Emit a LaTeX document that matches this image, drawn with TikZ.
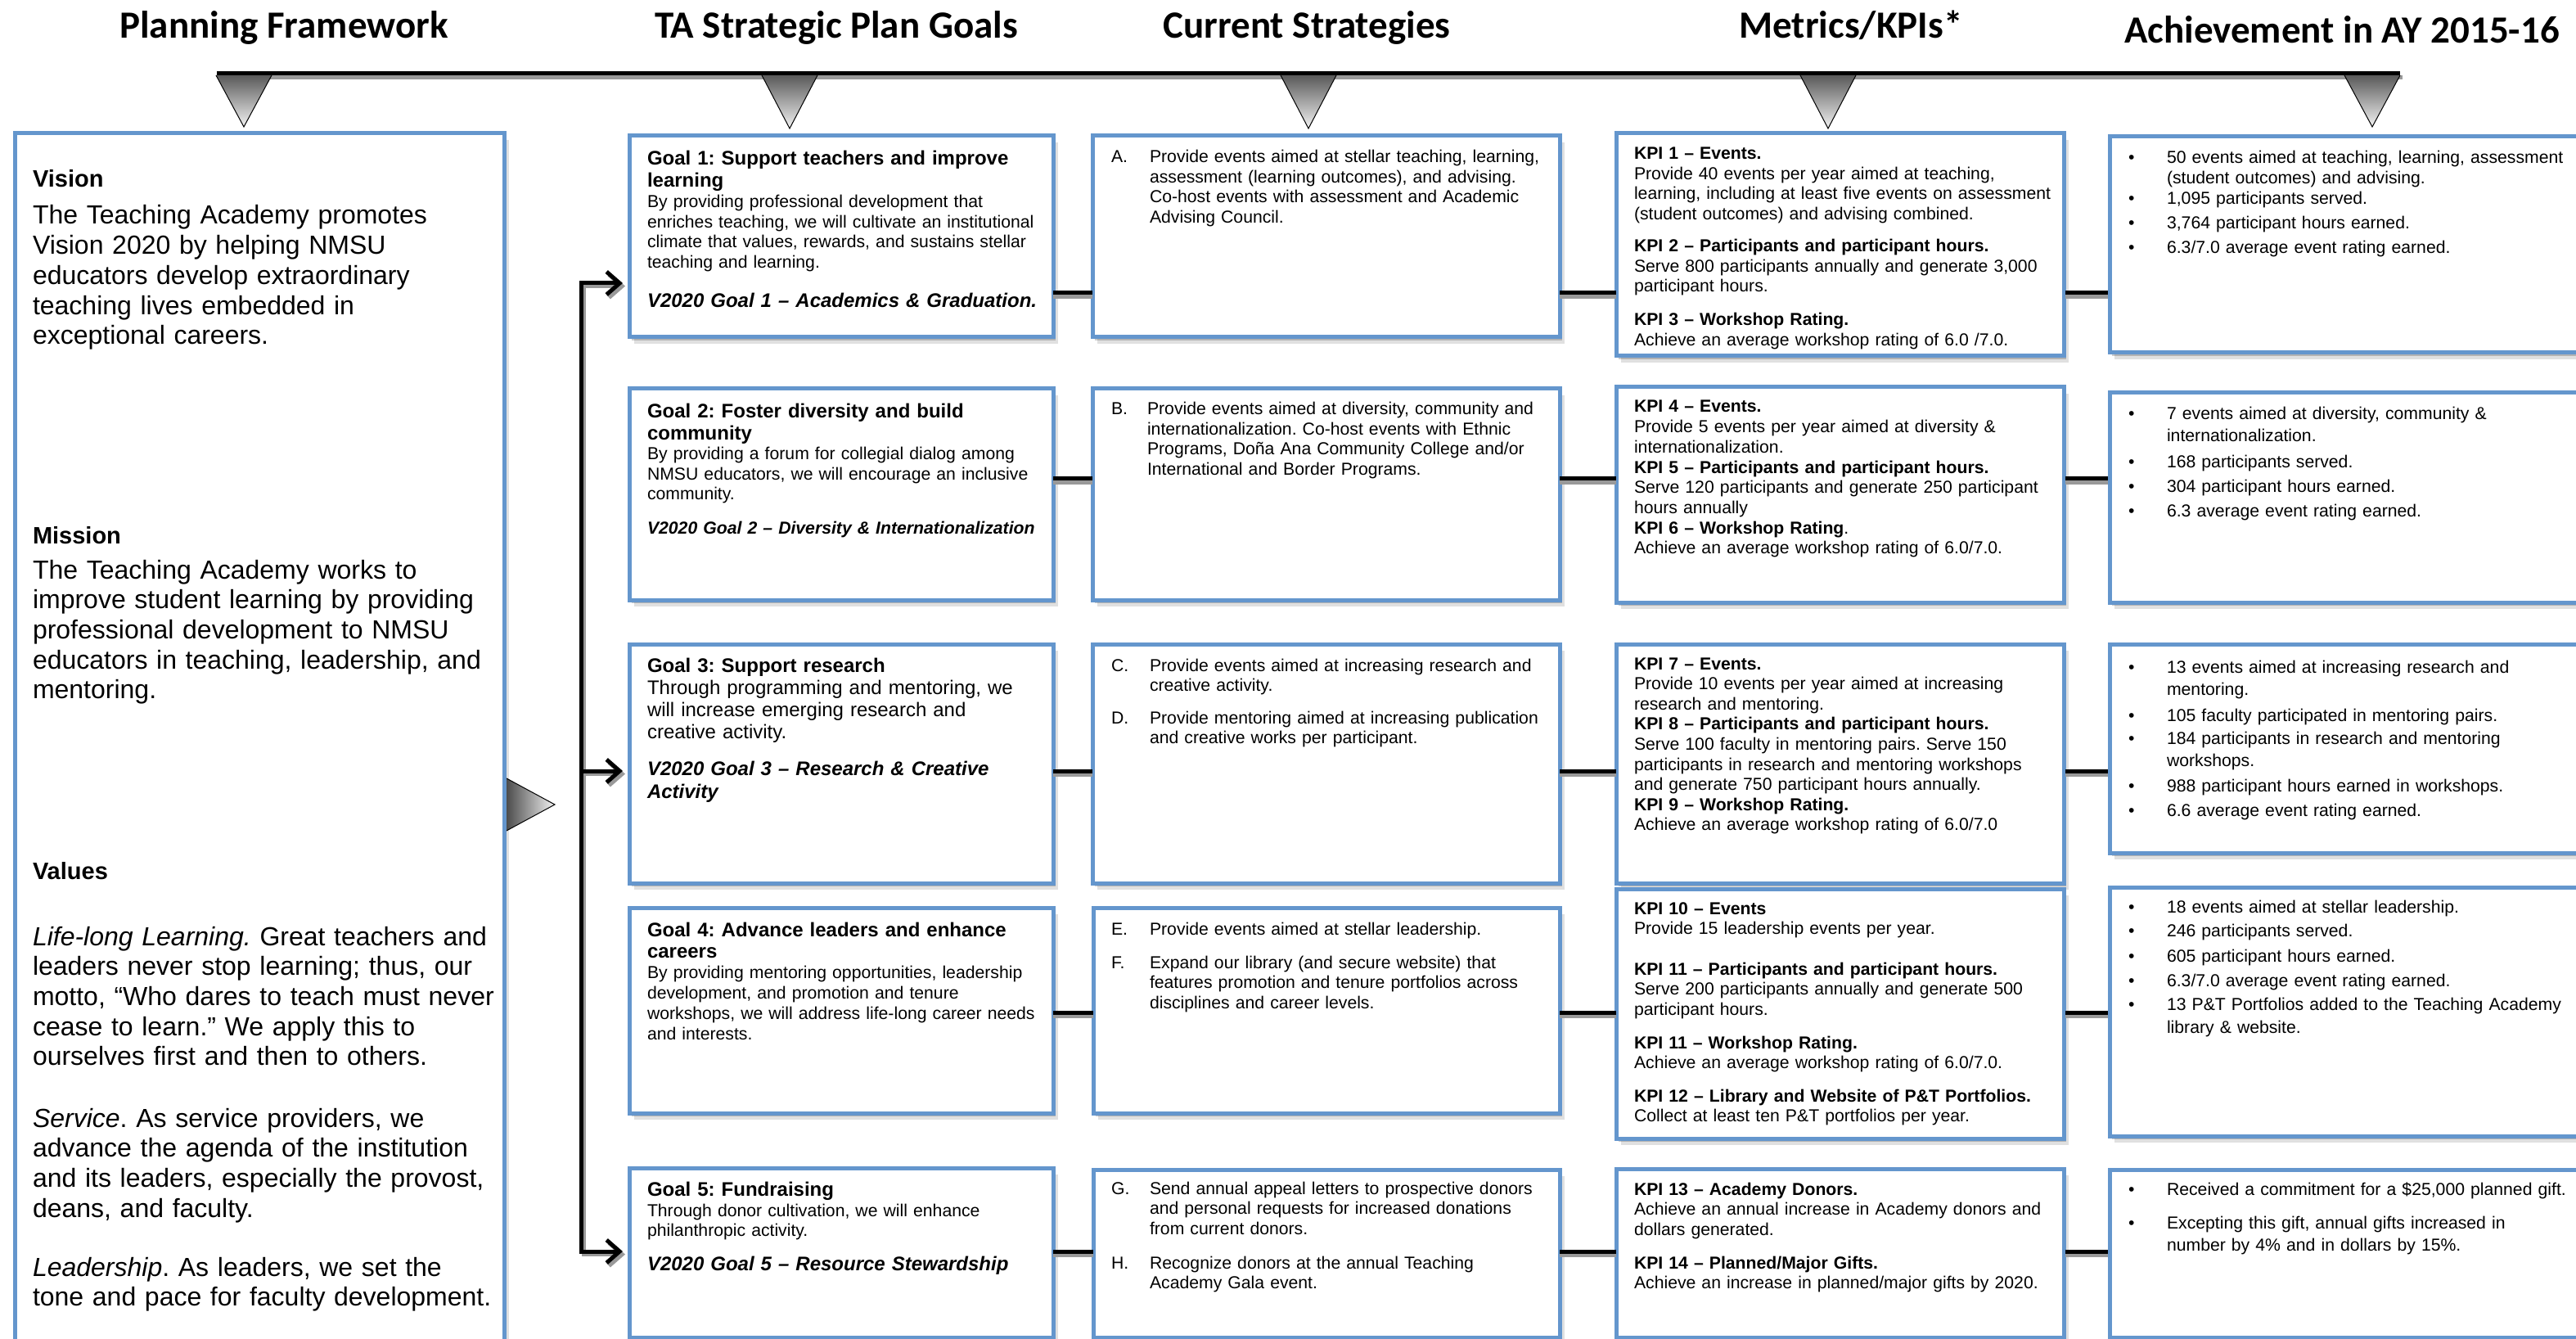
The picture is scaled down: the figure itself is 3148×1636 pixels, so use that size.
\documentclass[tikz,border=0pt]{standalone}
\usepackage{fontspec}
\setmainfont{Liberation Sans}
\newfontfamily\calib{Carlito}
\usetikzlibrary{arrows.meta,shadows}
\definecolor{boxblue}{RGB}{100,150,205}
\frenchspacing
\tikzset{
  box/.style={draw=boxblue, line width=2.5pt, fill=white, rectangle, inner sep=0pt, outer sep=0pt,
    drop shadow={shadow xshift=1.5pt,shadow yshift=-2pt,fill=black,opacity=.2},
    drop shadow={shadow xshift=3pt,shadow yshift=-4pt,fill=black,opacity=.12}},
  tt/.style={anchor=base west, align=left, text width=420pt, inner sep=0pt, outer sep=0pt, font={\frenchspacing\fontsize{10.6}{12.25}\selectfont}},
  ttitle/.style={tt, font={\frenchspacing\bfseries\fontsize{12}{13.3}\selectfont}},
  tv/.style={tt, font={\frenchspacing\bfseries\itshape\fontsize{12}{14}\selectfont}},
  lhead/.style={tt, font={\frenchspacing\bfseries\fontsize{14.5}{17}\selectfont}},
  lbody/.style={tt, font={\frenchspacing\fontsize{16}{18.35}\selectfont}},
  hdr/.style={anchor=base, inner sep=0pt, font={\calib\bfseries\fontsize{23.5}{28}\selectfont}},
  conn/.style={line width=2.5pt, black, shorten <=1.2pt, shorten >=1.2pt},
  connsh/.style={conn, black!40, transform canvas={yshift=-2.2pt}},
  brk/.style={line width=2.5pt, black},
  brksh/.style={brk, black!40, transform canvas={xshift=1.5pt,yshift=-1.8pt}},
  tip/.tip={Straight Barb[length=8pt,width=14pt]},
  tri/.style={draw=black, line width=0.5pt}
}
\newcommand\mkbox[5]{\node[box, anchor=north west, minimum width={(#4-#2)*0.5pt}, minimum height={(#5-#3)*0.5pt}] (#1) at (#2,#3) {};}
\newcommand\ach[3]{\node[tt] (#1b) at (2601,#2) {•}; \node[tt] (#1) at (2648,#2) {#3};}
\begin{document}
\begin{tikzpicture}[x=0.5pt,y=-0.5pt]
\useasboundingbox (0,0) rectangle (3148,1636);
\fill[white] (0,0) rectangle (3148,1636);

% headers
\node[hdr] (h1) at (347,47) {Planning Framework};
\node[hdr] (h2) at (1022,47) {TA Strategic Plan Goals};
\node[hdr] (h3) at (1597,47) {Current Strategies};
\node[hdr] (h4) at (2262,47) {Metrics/KPIs*};
\node[hdr] (h5) at (2862,53) {Achievement in AY 2015-16};

% top bar
\fill[black!40] (268,92) rectangle (2936,97);
\fill[black] (265,87) rectangle (2933,92);
\foreach \cx/\ay in {298/155,965/157,1599/157,2234/157,2899/155}{
  \shade[top color=black!65, bottom color=black!5] (\cx-34,92) -- (\cx+34,92) -- (\cx,\ay) -- cycle;
  \draw[tri] (\cx-34,92) -- (\cx,\ay) -- (\cx+34,92);
}

% boxes
\mkbox{left}{18}{163}{616}{1720}
\mkbox{g1}{769}{166}{1287}{412}
\mkbox{s1}{1335}{166}{1906}{412}
\mkbox{k1}{1975}{163}{2522}{435}
\mkbox{a1}{2578}{167}{3220}{431}
\mkbox{g2}{769}{475}{1287}{733}
\mkbox{s2}{1335}{475}{1906}{733}
\mkbox{k2}{1975}{473}{2522}{736}
\mkbox{a2}{2578}{480}{3220}{736}
\mkbox{g3}{769}{787}{1287}{1079}
\mkbox{s3}{1335}{787}{1906}{1079}
\mkbox{k3}{1975}{787}{2522}{1079}
\mkbox{a3}{2578}{787}{3220}{1042}
\mkbox{g4}{769}{1109}{1287}{1360}
\mkbox{s4}{1336}{1109}{1906}{1360}
\mkbox{k4}{1975}{1086}{2522}{1391}
\mkbox{a4}{2578}{1084}{3220}{1388}
\mkbox{g5}{769}{1427}{1287}{1634}
\mkbox{s5}{1336}{1429}{1906}{1634}
\mkbox{k5}{1975}{1428}{2522}{1634}
\mkbox{a5}{2578}{1429}{3220}{1634}

% right-pointing triangle from the framework box
\shade[left color=black!70, right color=black!5] (619,951) -- (678,983) -- (619,1015) -- cycle;
\draw[tri] (619,951) -- (678,983) -- (619,1015);

% row connectors
\coordinate (r1) at (0,358);
\coordinate (r2) at (0,585);
\coordinate (r3) at (0,942);
\coordinate (r4) at (0,1237);
\coordinate (r5) at (0,1529);
\coordinate (ra1) at (0,346);
\coordinate (bx) at (710,0);
\foreach \i in {1,...,5}{
  \draw[connsh] (g\i.east |- r\i) -- (s\i.west |- r\i) (s\i.east |- r\i) -- (k\i.west |- r\i) (k\i.east |- r\i) -- (a\i.west |- r\i);
  \draw[conn] (g\i.east |- r\i) -- (s\i.west |- r\i) (s\i.east |- r\i) -- (k\i.west |- r\i) (k\i.east |- r\i) -- (a\i.west |- r\i);
}

% bracket
\draw[brksh, {tip}-{tip}, shorten <=4pt, shorten >=4pt] (g1.west |- ra1) -| (bx |- r5) -- (g5.west |- r5);
\draw[brksh, -{tip}, shorten >=4pt] (bx |- r3) -- (g3.west |- r3);
\draw[brk, {tip}-{tip}, shorten <=4pt, shorten >=4pt] (g1.west |- ra1) -| (bx |- r5) -- (g5.west |- r5);
\draw[brk, -{tip}, shorten >=4pt] (bx |- r3) -- (g3.west |- r3);

% left framework text
\node[lhead] (vh) at (40,229) {Vision};
\node[lbody] (vb) at (40,274) {The Teaching Academy promotes\\Vision 2020 by helping NMSU\\educators develop extraordinary\\teaching lives embedded in\\exceptional careers.};
\node[lhead] (mh) at (40,664) {Mission};
\node[lbody] (mb) at (40,707) {The Teaching Academy works to\\improve student learning by providing\\professional development to NMSU\\educators in teaching, leadership, and\\mentoring.};
\node[lhead] (valh) at (40,1074) {Values};
\node[lbody] (v1) at (40,1155) {\textit{Life-long Learning.} Great teachers and\\leaders never stop learning; thus, our\\motto, “Who dares to teach must never\\cease to learn.” We apply this to\\ourselves first and then to others.};
\node[lbody] (v2) at (40,1377) {\textit{Service}. As service providers, we\\advance the agenda of the institution\\and its leaders, especially the provost,\\deans, and faculty.};
\node[lbody] (v3) at (40,1559) {\textit{Leadership}. As leaders, we set the\\tone and pace for faculty development.};

% goals
\node[ttitle] (g1a) at (791,202) {Goal 1: Support teachers and improve\\learning};
\node[tt] (g1b) at (791,254) {By providing professional development that\\enriches teaching, we will cultivate an institutional\\climate that values, rewards, and sustains stellar\\teaching and learning.};
\node[tv] (g1c) at (791,376) {V2020 Goal 1 – Academics \& Graduation.};

\node[ttitle] (g2a) at (791,511) {Goal 2: Foster diversity and build\\community};
\node[tt] (g2b) at (791,562) {By providing a forum for collegial dialog among\\NMSU educators, we will encourage an inclusive\\community.};
\node[tv, font={\frenchspacing\bfseries\itshape\fontsize{10.6}{12.25}\selectfont}] (g2c) at (791,653) {V2020 Goal 2 – Diversity \& Internationalization};

\node[ttitle] (g3a) at (791,821) {Goal 3: Support research};
\node[tt, font={\frenchspacing\fontsize{12}{13.5}\selectfont}] (g3b) at (791,848) {Through programming and mentoring, we\\will increase emerging research and\\creative activity.};
\node[tv] (g3c) at (791,947) {V2020 Goal 3 – Research \& Creative\\Activity};

\node[ttitle] (g4a) at (791,1144) {Goal 4: Advance leaders and enhance\\careers};
\node[tt, font={\frenchspacing\fontsize{10.6}{12.5}\selectfont}] (g4b) at (791,1195) {By providing mentoring opportunities, leadership\\development, and promotion and tenure\\workshops, we will address life-long career needs\\and interests.};

\node[ttitle] (g5a) at (791,1461) {Goal 5: Fundraising};
\node[tt] (g5b) at (791,1486) {Through donor cultivation, we will enhance\\philanthropic activity.};
\node[tv] (g5c) at (791,1552) {V2020 Goal 5 – Resource Stewardship};

% strategies
\node[tt] (sA) at (1358,199) {A.};
\node[tt] (sAt) at (1405,199) {Provide events aimed at stellar teaching, learning,\\assessment (learning outcomes), and advising.\\Co-host events with assessment and Academic\\Advising Council.};
\node[tt] (sB) at (1358,507) {B.};
\node[tt] (sBt) at (1402,507) {Provide events aimed at diversity, community and\\internationalization. Co-host events with Ethnic\\Programs, Doña Ana Community College and/or\\International and Border Programs.};
\node[tt] (sC) at (1358,820) {C.};
\node[tt] (sCt) at (1405,820) {Provide events aimed at increasing research and\\creative activity.};
\node[tt] (sD) at (1358,884) {D.};
\node[tt] (sDt) at (1405,884) {Provide mentoring aimed at increasing publication\\and creative works per participant.};
\node[tt] (sE) at (1358,1142) {E.};
\node[tt] (sEt) at (1405,1142) {Provide events aimed at stellar leadership.};
\node[tt] (sF) at (1358,1183) {F.};
\node[tt] (sFt) at (1405,1183) {Expand our library (and secure website) that\\features promotion and tenure portfolios across\\disciplines and career levels.};
\node[tt] (sG) at (1358,1459) {G.};
\node[tt] (sGt) at (1405,1459) {Send annual appeal letters to prospective donors\\and personal requests for increased donations\\from current donors.};
\node[tt] (sH) at (1358,1550) {H.};
\node[tt] (sHt) at (1405,1550) {Recognize donors at the annual Teaching\\Academy Gala event.};

% KPIs
\begin{scope}
\clip (k1.north west) rectangle ([yshift=2.2pt]k1.south east);
\node[tt] (k1a) at (1997,195) {\textbf{KPI 1 – Events.}\\Provide 40 events per year aimed at teaching,\\learning, including at least five events on assessment\\(student outcomes) and advising combined.};
\node[tt] (k1b) at (1997,308) {\textbf{KPI 2 – Participants and participant hours.}\\Serve 800 participants annually and generate 3,000\\participant hours.};
\node[tt] (k1c) at (1997,398) {\textbf{KPI 3 – Workshop Rating.}\\Achieve an average workshop rating of 6.0 /7.0.};
\end{scope}
\node[tt, font={\frenchspacing\fontsize{10.6}{12.35}\selectfont}] (k2a) at (1997,504) {\textbf{KPI 4 – Events.}\\Provide 5 events per year aimed at diversity \&\\internationalization.\\\textbf{KPI 5 – Participants and participant hours.}\\Serve 120 participants and generate 250 participant\\hours annually\\\textbf{KPI 6 – Workshop Rating}.\\Achieve an average workshop rating of 6.0/7.0.};
\node[tt, font={\frenchspacing\fontsize{10.6}{12.3}\selectfont}] (k3a) at (1997,818) {\textbf{KPI 7 – Events.}\\Provide 10 events per year aimed at increasing\\research and mentoring.\\\textbf{KPI 8 – Participants and participant hours.}\\Serve 100 faculty in mentoring pairs. Serve 150\\participants in research and mentoring workshops\\and generate 750 participant hours annually.\\\textbf{KPI 9 – Workshop Rating.}\\Achieve an average workshop rating of 6.0/7.0};
\node[tt] (k4a) at (1997,1117) {\textbf{KPI 10 – Events}\\Provide 15 leadership events per year.};
\node[tt] (k4b) at (1997,1191) {\textbf{KPI 11 – Participants and participant hours.}\\Serve 200 participants annually and generate 500\\participant hours.};
\node[tt] (k4c) at (1997,1281) {\textbf{KPI 11 – Workshop Rating.}\\Achieve an average workshop rating of 6.0/7.0.};
\node[tt] (k4d) at (1997,1346) {\textbf{KPI 12 – Library and Website of P\&T Portfolios.}\\Collect at least ten P\&T portfolios per year.};
\node[tt] (k5a) at (1997,1460) {\textbf{KPI 13 – Academy Donors.}\\Achieve an annual increase in Academy donors and\\dollars generated.};
\node[tt] (k5b) at (1997,1550) {\textbf{KPI 14 – Planned/Major Gifts.}\\Achieve an increase in planned/major gifts by 2020.};

% achievements
\ach{a11}{200}{50 events aimed at teaching, learning, assessment\\(student outcomes) and advising.}
\ach{a12}{250}{1,095 participants served.}
\ach{a13}{280}{3,764 participant hours earned.}
\ach{a14}{310}{6.3/7.0 average event rating earned.}
\ach{a21}{513}{7 events aimed at diversity, community \&\\[1.2pt]internationalization.}
\ach{a22}{572}{168 participants served.}
\ach{a23}{602}{304 participant hours earned.}
\ach{a24}{632}{6.3 average event rating earned.}
\ach{a31}{822}{13 events aimed at increasing research and\\[1.5pt]mentoring.}
\ach{a32}{881}{105 faculty participated in mentoring pairs.}
\ach{a33}{909}{184 participants in research and mentoring\\[1.5pt]workshops.}
\ach{a34}{967}{988 participant hours earned in workshops.}
\ach{a35}{997}{6.6 average event rating earned.}
\ach{a41}{1115}{18 events aimed at stellar leadership.}
\ach{a42}{1144}{246 participants served.}
\ach{a43}{1175}{605 participant hours earned.}
\ach{a44}{1205}{6.3/7.0 average event rating earned.}
\ach{a45}{1234}{13 P\&T Portfolios added to the Teaching Academy\\[2pt]library \& website.}
\ach{a51}{1460}{Received a commitment for a \$25,000 planned gift.}
\ach{a52}{1501}{Excepting this gift, annual gifts increased in\\[1.3pt]number by 4\% and in dollars by 15\%.}
\end{tikzpicture}
\end{document}
